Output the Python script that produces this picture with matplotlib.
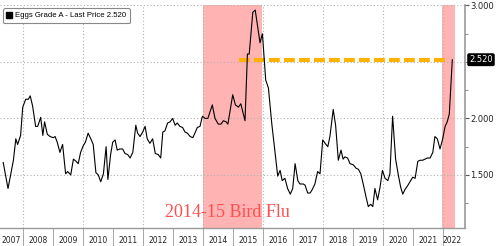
import matplotlib.pyplot as plt
from matplotlib.lines import Line2D
import numpy as np

# Eggs Grade A price, decimal years
dates = [2007.34, 2007.50, 2007.68, 2007.76, 2007.82, 2007.92, 2007.99, 2008.09, 2008.18, 2008.24,
         2008.32, 2008.42, 2008.49, 2008.59, 2008.66, 2008.72, 2008.81, 2008.90, 2009.01, 2009.07,
         2009.14, 2009.23, 2009.32, 2009.42, 2009.49, 2009.59, 2009.68, 2009.77, 2009.84, 2009.92,
         2010.01, 2010.08, 2010.17, 2010.26, 2010.34, 2010.43, 2010.51, 2010.59, 2010.68, 2010.77,
         2010.83, 2010.92, 2010.99, 2011.07, 2011.14, 2011.23, 2011.32, 2011.40, 2011.49, 2011.57,
         2011.66, 2011.76, 2011.82, 2011.90, 2011.99, 2012.07, 2012.14, 2012.23, 2012.32, 2012.41,
         2012.51, 2012.59, 2012.66, 2012.73, 2012.82, 2012.90, 2012.99, 2013.07, 2013.14, 2013.23,
         2013.32, 2013.40, 2013.48, 2013.57, 2013.66, 2013.73, 2013.81, 2013.90, 2013.98, 2014.07,
         2014.16, 2014.31, 2014.40, 2014.51, 2014.60, 2014.68, 2014.77, 2014.83, 2014.99, 2015.08,
         2015.18, 2015.26, 2015.40, 2015.48, 2015.54, 2015.66, 2015.74, 2015.90, 2015.98, 2016.09,
         2016.18, 2016.29, 2016.38, 2016.49, 2016.57, 2016.64, 2016.73, 2016.82, 2016.91, 2016.99,
         2017.07, 2017.16, 2017.23, 2017.34, 2017.40, 2017.49, 2017.57, 2017.64, 2017.73, 2017.82,
         2017.90, 2017.99, 2018.07, 2018.16, 2018.23, 2018.34, 2018.42, 2018.51, 2018.60, 2018.67,
         2018.73, 2018.82, 2018.90, 2019.01, 2019.10, 2019.18, 2019.26, 2019.34, 2019.43, 2019.51,
         2019.59, 2019.66, 2019.73, 2019.82, 2019.90, 2019.98, 2020.07, 2020.16, 2020.23, 2020.32,
         2020.42, 2020.51, 2020.59, 2020.66, 2020.73, 2020.81, 2020.90, 2020.99, 2021.07, 2021.16,
         2021.23, 2021.32, 2021.40, 2021.48, 2021.57, 2021.66, 2021.73, 2021.81, 2021.90, 2021.99,
         2022.07, 2022.14, 2022.21, 2022.31]
prices = [1.61, 1.38, 1.63, 1.82, 1.77, 1.85, 2.10, 2.17, 2.17, 2.20,
          2.11, 1.93, 1.93, 2.01, 1.85, 1.97, 1.86, 1.84, 1.83, 1.84,
          1.79, 1.70, 1.77, 1.51, 1.53, 1.50, 1.64, 1.62, 1.60, 1.70,
          1.76, 1.79, 1.87, 1.82, 1.77, 1.52, 1.50, 1.44, 1.51, 1.75,
          1.46, 1.68, 1.79, 1.81, 1.72, 1.73, 1.73, 1.69, 1.68, 1.65,
          1.70, 1.94, 1.87, 1.84, 1.88, 1.93, 1.82, 1.78, 1.82, 1.69,
          1.68, 1.65, 1.88, 1.89, 1.96, 1.97, 2.00, 1.94, 1.96, 1.93,
          1.92, 1.88, 1.87, 1.84, 1.83, 1.87, 1.92, 1.93, 2.02, 2.00,
          2.00, 2.12, 2.00, 1.95, 1.95, 1.98, 1.97, 1.95, 2.21, 2.12,
          2.10, 2.13, 1.98, 2.57, 2.57, 2.94, 2.96, 2.67, 2.75, 2.34,
          2.27, 1.96, 1.75, 1.49, 1.54, 1.45, 1.47, 1.38, 1.33, 1.38,
          1.60, 1.45, 1.42, 1.42, 1.41, 1.34, 1.34, 1.37, 1.42, 1.53,
          1.51, 1.81, 1.78, 1.75, 1.84, 2.08, 1.94, 1.63, 1.72, 1.64,
          1.66, 1.65, 1.60, 1.59, 1.56, 1.55, 1.51, 1.42, 1.31, 1.22,
          1.24, 1.22, 1.38, 1.28, 1.39, 1.54, 1.47, 1.45, 1.51, 2.02,
          1.64, 1.50, 1.39, 1.33, 1.37, 1.40, 1.44, 1.48, 1.47, 1.62,
          1.63, 1.63, 1.64, 1.65, 1.65, 1.70, 1.84, 1.82, 1.73, 1.82,
          1.93, 1.97, 2.04, 2.52]

last_price = 2.520
flu_periods = [(2014.0, 2015.95), (2021.97, 2022.4)]
year_labels = list(range(2007, 2023))

fig = plt.figure(figsize=(5, 2.46), dpi=100)
ax = fig.add_axes([0.0, 0.073, 0.93, 0.907])

for start, end in flu_periods:
    ax.axvspan(start, end, color='#ffb3b3', lw=0, zorder=0)

ax.plot(dates, prices, color='black', lw=0.8, zorder=3)

# last price dashed line
ax.hlines(last_price, 2015.2, 2022.07, color='#ffb300', lw=3,
          linestyles=(0, (2.6, 1.0)), zorder=2)

ax.text(2014.8, 1.17, '2014-15 Bird Flu', color='#ff5050', fontsize=13,
        family='Liberation Serif', ha='center', va='center', zorder=4)

ax.set_xlim(2007.233, 2022.733)
ax.set_ylim(1.03, 3.005)

# grid
for yr in range(2008, 2023, 2):
    ax.axvline(yr, color='#b0b0b0', lw=0.8, ls=(0, (1, 2)), zorder=1)
for v in [1.5, 2.0, 2.5, 3.0]:
    ax.axhline(v, color='#b0b0b0', lw=0.8, ls=(0, (1, 2)), zorder=1)

# y axis on the right
ax.yaxis.tick_right()
ax.set_yticks([1.5, 2.0, 3.0])
ax.set_yticklabels(['1.500', '2.000', '3.000'])
ax.set_yticks([1.25, 1.75, 2.25, 2.5, 2.75], minor=True)
ax.tick_params(axis='y', which='major', length=3, width=0.8, color='#555555',
               labelsize=6, pad=1, labelcolor='#222222')
ax.tick_params(axis='y', which='minor', length=2, width=0.6, color='#777777')

# x axis: separators at year boundaries, labels in between
ax.set_xticks(range(2008, 2023))
ax.set_xticklabels([])
label_pos = [2007.62] + [y + 0.5 for y in year_labels[1:-1]] + [2022.3]
ax.set_xticks(label_pos, minor=True)
ax.set_xticklabels([str(y) for y in year_labels], minor=True)
ax.tick_params(axis='x', which='major', length=20, width=0.6, color='#999999')
ax.tick_params(axis='x', which='minor', length=0, labelsize=5.5, pad=6,
               labelcolor='#222222')

for side in ['top', 'left']:
    ax.spines[side].set_visible(False)
ax.spines['right'].set_color('#999999')
ax.spines['right'].set_linewidth(1.2)
ax.spines['bottom'].set_color('#999999')
ax.spines['bottom'].set_linewidth(1.0)

# last price tag
ax.annotate('2.520', xy=(1.0, last_price), xycoords=('axes fraction', 'data'),
            xytext=(3, 0), textcoords='offset points', fontsize=6,
            color='white', va='center', ha='left', annotation_clip=False,
            bbox=dict(boxstyle='round,pad=0.15', fc='black', ec='black'))

handle = Line2D([], [], marker='s', color='black', ls='none', markersize=5)
leg = ax.legend([handle], ['Eggs Grade A - Last Price 2.520'], loc='upper left',
                prop={'family': 'Liberation Sans', 'size': 5.6},
                handlelength=0.6, handletextpad=0.4, borderpad=0.5,
                fancybox=True, framealpha=1, edgecolor='#888888',
                bbox_to_anchor=(0.0, 1.0), borderaxespad=0.4)
leg.get_frame().set_linewidth(0.8)

fig.savefig('out.png', dpi=100)
